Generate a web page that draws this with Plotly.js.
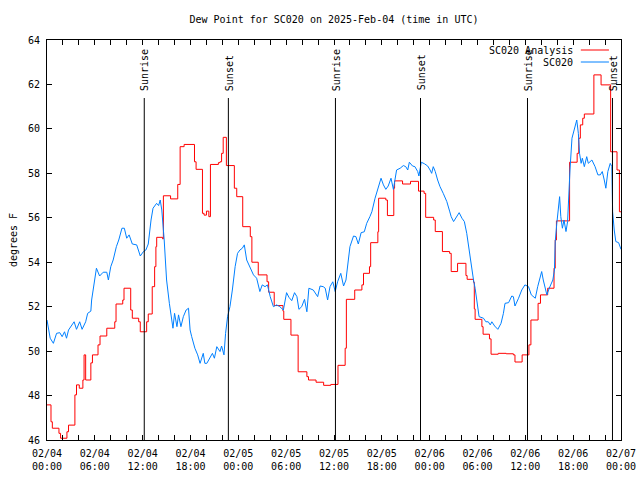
<!DOCTYPE html>
<html>
<head>
<meta charset="utf-8">
<script src="https://cdn.plot.ly/plotly-3.0.1.min.js"></script>
<style>html,body{margin:0;padding:0;background:#fff;}#chart{width:640px;height:480px;}</style>
</head>
<body>
<div id="chart"></div>
<script>
// Hours since 2025-02-04 00:00 UTC
var analysisHours = [0,0.5,0.67,1.5,1.7,2.5,2.7,3.5,3.7,4.05,4.5,4.65,4.85,5.5,5.7,6.4,6.65,7.5,8.5,8.66,9.5,9.66,10.5,10.7,11.5,11.7,12.5,12.7,13.2,13.5,13.66,13.76,14.5,14.6,15.5,16.4,16.7,17.2,18.5,18.7,19.5,19.7,20.0,20.3,20.5,21.5,21.7,21.9,22.1,22.5,23.5,23.8,24.55,25.5,25.7,26.5,27.6,27.8,28.5,29.6,29.7,30.6,31.5,32.6,32.8,33.75,34.7,35.6,36.5,37.4,37.55,38.6,39.5,39.7,40.45,40.6,41.5,41.6,42.5,42.7,43.5,43.6,44.6,45.6,46.6,47.3,47.5,48.5,48.7,49.6,50.5,50.7,51.5,52.55,52.7,53.5,53.6,53.7,54.55,54.7,55.5,55.7,56.6,57.6,58.5,58.7,59.6,60.45,60.7,61.6,61.9,62.8,63.6,63.75,63.9,65.55,66.5,66.7,66.9,67.2,67.4,68.6,69.5,70.7,71.5,71.8,72];
var analysisValues = [47.58,46.82,46.53,46.3,46.08,46.37,46.67,48.03,48.48,48.33,48.7,49.83,48.7,49.47,49.83,50.28,50.68,51.03,51.32,52.12,52.3,52.83,51.85,51.48,51.32,50.87,51.32,51.67,52.9,53.8,54.7,55.12,55.05,56.99,56.85,57.5,59.2,59.3,58.52,58.18,56.2,56.12,56.3,56.05,58.4,58.48,58.52,58.9,59.62,58.35,57.33,56.95,55.6,55.15,54.0,53.43,53.12,52.65,52.05,51.8,51.43,50.72,49.07,48.85,48.7,48.6,48.46,48.5,49.36,50.13,52.33,52.75,52.98,53.5,53.8,54.88,55.37,56.88,56.8,56.1,57.33,57.66,57.52,57.64,57.2,57.1,56.02,55.9,55.38,54.48,54.4,53.58,53.95,53.4,53.23,53.1,51.9,51.43,51.1,50.76,50.55,49.86,49.9,49.88,49.83,49.51,49.83,50.28,51.4,52.15,52.53,52.83,53.73,55.0,55.86,58.5,58.9,59.58,60.18,60.48,60.67,62.43,61.98,58.97,58.15,56.27,56.27];

var obsHours = [0,0.4,0.8,1.2,1.6,1.9,2.2,2.45,2.7,3.1,3.4,3.7,4.1,4.4,4.85,5.1,5.5,5.6,5.9,6.2,6.6,7.05,7.5,7.7,8.0,8.3,8.7,9.0,9.4,9.7,10.0,10.3,10.7,11.25,11.7,12.1,12.4,12.7,13.05,13.3,13.75,14.0,14.2,14.4,14.7,15.0,15.35,15.65,15.8,16.0,16.3,16.5,16.8,17.1,17.45,17.75,17.95,18.15,18.55,18.9,19.2,19.6,19.8,20.05,20.45,20.75,21.0,21.3,21.7,21.9,22.2,22.4,22.65,22.95,23.25,23.6,23.9,24.2,24.5,24.75,25.05,25.5,25.9,26.3,26.7,27.0,27.35,27.65,28.0,28.4,28.8,29.2,29.65,30.05,30.35,30.7,31.05,31.35,31.6,31.95,32.3,32.6,32.85,33.4,33.95,34.25,34.65,34.9,35.2,35.5,35.85,36.15,36.45,36.85,37.2,37.5,37.7,38.0,38.45,38.75,39.05,39.4,39.8,40.1,40.5,40.75,41.15,41.55,41.9,42.2,42.5,42.8,43.15,43.45,43.85,44.3,44.7,45.0,45.25,45.45,45.85,46.15,46.5,46.65,46.95,47.35,47.75,48.05,48.25,48.45,48.7,49.0,49.3,49.7,50.15,50.5,50.7,51.0,51.4,51.7,52.05,52.35,52.65,52.95,53.2,53.5,53.7,53.9,54.2,54.75,55.05,55.35,55.6,55.8,56.15,56.55,56.95,57.25,57.45,57.9,58.3,58.5,58.7,59.15,59.55,59.95,60.4,60.75,61.25,61.55,61.85,62.05,62.25,62.5,62.7,63.0,63.25,63.45,63.65,63.75,63.95,64.15,64.3,64.45,64.65,64.85,65.1,65.3,65.4,65.6,65.85,66.05,66.25,66.45,66.65,66.8,67.0,67.15,67.4,67.7,67.9,68.35,68.75,69.1,69.4,69.65,69.9,70.1,70.35,70.65,70.85,70.95,71.15,71.35,71.7,72];
var obsValues = [51.4,50.58,50.35,50.8,50.83,50.65,50.87,50.58,50.95,51.18,51.32,50.98,51.32,50.98,51.32,51.7,51.8,52.3,53.05,53.73,53.38,53.55,53.55,53.2,53.8,54.1,54.7,55.0,55.53,55.53,55.08,55.23,54.82,54.78,54.28,54.48,54.55,54.82,55.9,56.43,56.65,56.55,56.8,56.35,55.0,53.2,52.15,51.4,51.03,51.7,51.1,51.63,51.1,51.55,51.85,51.93,50.95,50.65,50.13,49.83,49.45,49.9,49.45,49.45,49.75,49.9,49.68,50.2,49.98,50.23,49.83,50.8,51.55,52.0,52.75,53.8,54.4,54.55,54.63,54.78,54.1,53.73,53.43,53.28,52.68,52.98,52.9,52.98,52.45,52.0,52.08,52.0,51.85,52.63,52.42,52.27,52.63,52.45,51.88,52.0,52.33,51.77,52.83,52.75,52.45,52.93,52.9,52.83,52.3,52.9,53.12,52.68,53.12,53.5,52.93,53.2,53.73,54.7,55.18,55.15,54.82,55.33,55.37,55.75,56.05,56.27,56.88,57.33,57.78,57.48,57.28,57.43,57.78,57.28,58.15,58.23,58.35,58.3,58.15,58.5,58.33,58.3,58.08,57.88,58.5,58.43,58.33,58.15,58.0,58.3,58.08,57.7,57.4,57.1,56.73,56.3,56.05,55.83,56.05,56.23,55.98,55.83,55.3,54.55,53.8,53.2,52.83,52.23,51.55,51.48,51.32,51.32,51.18,51.32,51.13,50.98,51.25,51.7,52.15,52.18,52.48,52.45,52.03,52.38,52.75,52.98,52.9,52.53,52.38,52.9,53.35,53.58,53.2,52.83,52.53,52.83,53.05,53.2,53.65,54.93,55.75,56.5,56.95,56.05,55.53,55.9,55.38,55.83,56.8,58.15,59.58,59.88,60.1,60.4,59.8,58.9,58.45,58.68,58.3,58.75,58.45,58.6,58.3,57.93,57.93,58.08,57.7,57.33,58.08,58.45,58.3,56.27,55.45,54.93,54.88,54.58];

var sunEventHours = [12.2, 22.75, 36.18, 46.85, 60.27, 70.93];
var sunEventLabels = ["Sunrise", "Sunset", "Sunrise", "Sunset", "Sunrise", "Sunset"];

var xTickHours = [0,6,12,18,24,30,36,42,48,54,60,66,72];
var xTickLabels = ["02/04<br>00:00","02/04<br>06:00","02/04<br>12:00","02/04<br>18:00","02/05<br>00:00","02/05<br>06:00","02/05<br>12:00","02/05<br>18:00","02/06<br>00:00","02/06<br>06:00","02/06<br>12:00","02/06<br>18:00","02/07<br>00:00"];

var seriesNames = ["SC020 Analysis", "SC020"];
var seriesColors = ["#ff0000", "#0080ff"];

var FONT = "DejaVu Sans Mono, Liberation Mono, monospace";

var traces = [
  {x: analysisHours, y: analysisValues, type: "scatter", mode: "lines", line: {shape: "hv", color: seriesColors[0], width: 1}, name: seriesNames[0]},
  {x: obsHours, y: obsValues, type: "scatter", mode: "lines", line: {color: seriesColors[1], width: 1}, name: seriesNames[1]}
];

var shapes = [];
var annotations = [];
for (var i = 0; i < sunEventHours.length; i++) {
  shapes.push({type: "line", xref: "x", yref: "paper", x0: sunEventHours[i], x1: sunEventHours[i], y0: 0, y1: 0.855, line: {color: "#000", width: 1}});
  annotations.push({xref: "x", yref: "paper", x: sunEventHours[i], y: 0.868, text: sunEventLabels[i], textangle: -90, showarrow: false, xanchor: "center", yanchor: "bottom", xshift: 1, font: {family: FONT, size: 10, color: "#000"}});
}
// legend drawn gnuplot-style (text then line sample)
var legY = [0.975, 0.945];
for (var j = 0; j < seriesNames.length; j++) {
  annotations.push({xref: "paper", yref: "paper", x: 0.919, y: legY[j], text: seriesNames[j], showarrow: false, xanchor: "right", yanchor: "middle", font: {family: FONT, size: 10, color: "#000"}});
  shapes.push({type: "line", xref: "paper", yref: "paper", x0: 0.930, x1: 0.979, y0: legY[j], y1: legY[j], line: {color: seriesColors[j], width: 1}});
}

var layout = {
  width: 640, height: 480,
  margin: {l: 47, r: 19, t: 40, b: 40, pad: 0},
  paper_bgcolor: "#fff", plot_bgcolor: "#fff",
  showlegend: false,
  font: {family: FONT, size: 10, color: "#000"},
  title: {text: "Dew Point for SC020 on 2025-Feb-04 (time in UTC)", x: 0.5, xref: "paper", y: 0.96, yref: "container", yanchor: "middle", font: {family: FONT, size: 10, color: "#000"}},
  xaxis: {
    range: [0, 72], tickmode: "array", tickvals: xTickHours, ticktext: xTickLabels,
    ticks: "inside", ticklen: 5, tickcolor: "#000", tickwidth: 1,
    minor: {dtick: 2, tick0: 0, ticks: "inside", ticklen: 5, tickcolor: "#000", showgrid: false},
    showline: true, linecolor: "#000", linewidth: 1, mirror: "allticks",
    showgrid: false, zeroline: false, ticklabelstandoff: 4,
    tickfont: {family: FONT, size: 10, color: "#000"}
  },
  yaxis: {
    range: [46, 64], dtick: 2, tick0: 46,
    ticks: "inside", ticklen: 5, tickcolor: "#000", tickwidth: 1,
    showline: true, linecolor: "#000", linewidth: 1, mirror: "allticks",
    showgrid: false, zeroline: false, ticklabelstandoff: 4,
    tickfont: {family: FONT, size: 10, color: "#000"},
    title: {text: "degrees F", standoff: 8, font: {family: FONT, size: 10, color: "#000"}}
  },
  shapes: shapes,
  annotations: annotations
};

Plotly.newPlot("chart", traces, layout, {staticPlot: true, displayModeBar: false});
</script>
</body>
</html>
